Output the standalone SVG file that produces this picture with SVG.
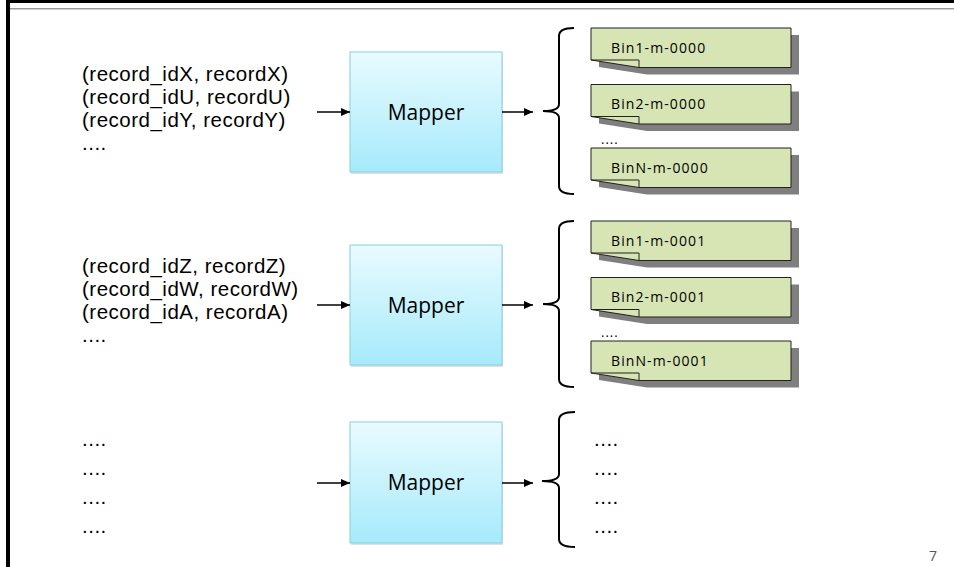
<svg xmlns="http://www.w3.org/2000/svg" width="954" height="567" viewBox="0 0 954 567">
<defs>
<linearGradient id="mg" x1="0" y1="0" x2="0" y2="1">
<stop offset="0" stop-color="#e9fbff"/>
<stop offset="1" stop-color="#a6eafb"/>
</linearGradient>
<marker id="ah" markerWidth="10" markerHeight="8" refX="9" refY="4" orient="auto" markerUnits="userSpaceOnUse">
<path d="M0,0 L9,4 L0,8 Z" fill="#000"/>
</marker>
<g id="note">
<path d="M8,7 H208 V46.5 H56 L8,39 Z" fill="#7f7f7f"/>
<path d="M0,0 H200 V39.5 H48 L0,32 Z" fill="#d7e4b4" stroke="#222" stroke-width="1"/>
<path d="M0,32 H48 V39.5" fill="none" stroke="#222" stroke-width="1"/>
</g>
</defs>
<style>
.t{font-family:"Open Sans","Liberation Sans",sans-serif;fill:#000}
.lt{font-family:"Liberation Sans","Open Sans",sans-serif;font-size:20.5px;letter-spacing:0.5px}
.mt{font-size:21px;text-anchor:middle}
.nt{font-size:14px;letter-spacing:1.1px}
.dt{font-size:13px;letter-spacing:1px}
.box{fill:url(#mg);stroke:#86cfe2;stroke-width:1}
.sh{fill:#000;opacity:0.12}
.c{stroke:#000;stroke-width:1.5;fill:none}
.br{stroke:#000;stroke-width:2;fill:none}
</style>
<rect x="0" y="0" width="954" height="567" fill="#fff"/>
<g id="frame">
<rect x="6" y="0" width="948" height="3" fill="#000"/>
<rect x="6" y="0" width="4" height="567" fill="#000"/>
<line x1="10" y1="8.5" x2="954" y2="8.5" stroke="#9a9a9a" stroke-width="1"/>
<line x1="10" y1="9.5" x2="954" y2="9.5" stroke="#d0d0d0" stroke-width="1"/>
</g>
<g id="input1">
<text class="t lt" x="82" y="81">(record_idX, recordX)</text>
<text class="t lt" x="82" y="104">(record_idU, recordU)</text>
<text class="t lt" x="82" y="127">(record_idY, recordY)</text>
<text class="t lt" x="82" y="150">....</text>
</g>
<g id="input2">
<text class="t lt" x="82" y="273">(record_idZ, recordZ)</text>
<text class="t lt" x="82" y="296">(record_idW, recordW)</text>
<text class="t lt" x="82" y="319">(record_idA, recordA)</text>
<text class="t lt" x="82" y="342">....</text>
</g>
<g id="input3">
<text class="t lt" x="82" y="446">....</text>
<text class="t lt" x="82" y="475">....</text>
<text class="t lt" x="82" y="504">....</text>
<text class="t lt" x="82" y="533">....</text>
</g>
<g id="mapper1">
<rect class="sh" x="351" y="54" width="152" height="120"/>
<rect class="box" x="350" y="52" width="152" height="120"/>
<text class="t mt" x="426" y="120">Mapper</text>
</g>
<g id="mapper2">
<rect class="sh" x="351" y="247" width="152" height="120"/>
<rect class="box" x="350" y="245" width="152" height="120"/>
<text class="t mt" x="426" y="313">Mapper</text>
</g>
<g id="mapper3">
<rect class="sh" x="351" y="424" width="152" height="121"/>
<rect class="box" x="350" y="422" width="152" height="121"/>
<text class="t mt" x="426" y="490">Mapper</text>
</g>
<g id="connectors">
<line class="c" x1="317" y1="112" x2="350" y2="112" marker-end="url(#ah)"/>
<line class="c" x1="502" y1="112" x2="533" y2="112" marker-end="url(#ah)"/>
<line class="c" x1="317" y1="305" x2="350" y2="305" marker-end="url(#ah)"/>
<line class="c" x1="502" y1="305" x2="533" y2="305" marker-end="url(#ah)"/>
<line class="c" x1="317" y1="483" x2="350" y2="483" marker-end="url(#ah)"/>
<line class="c" x1="502" y1="483" x2="533" y2="483" marker-end="url(#ah)"/>
</g>
<g id="bracket1">
<path class="br" d="M574,28 Q559,28 559,36 L559,104 Q559,111 543,111 Q559,111 559,118 L559,186 Q559,194 574,194"/>
</g>
<g id="bracket2">
<path class="br" d="M574,221 Q559,221 559,229 L559,297 Q559,304 543,304 Q559,304 559,311 L559,379 Q559,387 574,387"/>
</g>
<g id="bracket3">
<path class="br" d="M575,412 Q559,412 559,420 L559,474 Q559,481 542,481 Q559,481 559,488 L559,539 Q559,547 575,547"/>
</g>
<g id="bin1-0000"><use href="#note" x="591" y="28"/><text class="t nt" x="611" y="52.5">Bin1-m-0000</text></g>
<g id="bin2-0000"><use href="#note" x="591" y="84.5"/><text class="t nt" x="611" y="109">Bin2-m-0000</text></g>
<text class="t dt" x="601" y="144">....</text>
<g id="binN-0000"><use href="#note" x="591" y="148"/><text class="t nt" x="611" y="172.5">BinN-m-0000</text></g>
<g id="bin1-0001"><use href="#note" x="591" y="221"/><text class="t nt" x="611" y="245.5">Bin1-m-0001</text></g>
<g id="bin2-0001"><use href="#note" x="591" y="277.5"/><text class="t nt" x="611" y="302">Bin2-m-0001</text></g>
<text class="t dt" x="601" y="337">....</text>
<g id="binN-0001"><use href="#note" x="591" y="341"/><text class="t nt" x="611" y="365.5">BinN-m-0001</text></g>
<g id="output3">
<text class="t lt" x="594" y="446">....</text>
<text class="t lt" x="594" y="475">....</text>
<text class="t lt" x="594" y="504">....</text>
<text class="t lt" x="594" y="533">....</text>
</g>
<text class="t" x="929" y="561" font-size="14" style="fill:#595959">7</text>
</svg>
